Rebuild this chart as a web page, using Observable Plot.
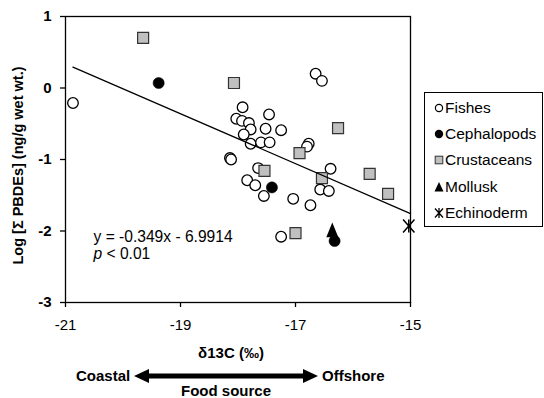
<!DOCTYPE html>
<html>
<head>
<meta charset="utf-8">
<script src="https://cdn.jsdelivr.net/npm/d3@7"></script>
<script src="https://cdn.jsdelivr.net/npm/@observablehq/plot@0.6"></script>
<style>
  html, body { margin: 0; padding: 0; background: #fff; }
  body { font-family: Arial, "Liberation Sans", sans-serif; color: #000; }
  #wrap { position: relative; width: 544px; height: 398px; overflow: hidden; background: #fff; }
  #chart svg { display: block; }
  #legend { position: absolute; left: 424px; top: 92px; width: 119px; height: 135px; border: 1px solid #000; background: #fff; box-sizing: border-box; }
  .item { position: absolute; left: 0; height: 18px; line-height: 18px; font-size: 15.5px; white-space: nowrap; }
  .item svg { position: absolute; left: 6px; top: 1px; }
  .item span { position: absolute; left: 20px; top: 0; }
  .cap { position: absolute; font: bold 15px Arial, "Liberation Sans", sans-serif; line-height: 18px; white-space: nowrap; }
</style>
</head>
<body>
<div id="wrap">
  <div id="chart"></div>
  <div id="legend"></div>
  <div class="cap" style="left:76px;top:367px;">Coastal</div>
  <svg id="arrow" width="184" height="16" style="position:absolute;left:134px;top:368px;">
    <polygon points="0,8 15,1 15,15" fill="#000"/>
    <rect x="14" y="5.5" width="156" height="5" fill="#000"/>
    <polygon points="184,8 169,1 169,15" fill="#000"/>
  </svg>
  <div class="cap" style="left:322px;top:367px;">Offshore</div>
  <div class="cap" style="left:181px;top:382px;">Food source</div>
</div>
<script>
// ---- data ----
const categories = ["Fishes", "Cephalopods", "Crustaceans", "Mollusk", "Echinoderm"];

const fishX = [-20.87, -16.65, -16.54, -17.92, -17.46, -18.03, -17.93, -17.81, -17.78, -17.90,
               -17.52, -17.25, -17.78, -17.60, -17.45, -16.77, -16.80, -18.14, -18.12, -17.65,
               -17.84, -17.70, -16.39, -16.57, -16.42, -17.55, -17.04, -16.74, -17.25];
const fishY = [-0.21, 0.20, 0.10, -0.27, -0.37, -0.43, -0.46, -0.49, -0.58, -0.65,
               -0.57, -0.59, -0.78, -0.76, -0.76, -0.78, -0.82, -0.98, -1.00, -1.12,
               -1.29, -1.36, -1.13, -1.42, -1.44, -1.51, -1.55, -1.64, -2.08];

const cephX = [-19.38, -17.41, -16.32];
const cephY = [0.07, -1.39, -2.14];

const crustX = [-19.65, -18.07, -16.26, -16.93, -17.54, -16.54, -15.71, -15.39, -17.00];
const crustY = [0.70, 0.07, -0.56, -0.91, -1.16, -1.26, -1.20, -1.48, -2.03];

const molluskX = [-16.36];
const molluskY = [-1.99];

const echinoX = [-15.03];
const echinoY = [-1.93];

const slope = -0.349;
const intercept = -6.9914;
const equationText = "y = -0.349x - 6.9914";
const pText = "< 0.01";

const xTicks = [-21, -19, -17, -15];
const yTicks = [-3, -2, -1, 0, 1];

const xLabel = "δ13C (‰)";
const yLabel = "Log [Σ PBDEs] (ng/g wet wt.)";

// ---- tables ----
const toRows = (xs, ys) => xs.map((x, i) => ({x, y: ys[i]}));
const fish = toRows(fishX, fishY);
const ceph = toRows(cephX, cephY);
const crust = toRows(crustX, crustY);
const mollusk = toRows(molluskX, molluskY);
const echino = toRows(echinoX, echinoY);

const allX = [...fishX, ...cephX, ...crustX, ...molluskX, ...echinoX];
const xMin = d3.min(allX), xMax = -15;
const trend = [xMin, xMax].map(x => ({x, y: slope * x + intercept}));

// custom symbols
const triSym = {
  draw(ctx, size) {
    const r = Math.sqrt(size / Math.PI);
    ctx.moveTo(0, -1.3 * r);
    ctx.lineTo(r, 1.15 * r);
    ctx.lineTo(-r, 1.15 * r);
    ctx.closePath();
  }
};
const astSym = {
  draw(ctx, size) {
    const r = Math.sqrt(size / Math.PI);
    const w = 0.95 * r, h = 1.1 * r;
    ctx.moveTo(-w, -h); ctx.lineTo(w, h);
    ctx.moveTo(-w, h); ctx.lineTo(w, -h);
    ctx.moveTo(0, -h); ctx.lineTo(0, h);
  }
};

const font = 'Arial, "Liberation Sans", sans-serif';

const chart = Plot.plot({
  width: 544,
  height: 362,
  marginLeft: 65,
  marginRight: 134,
  marginTop: 16,
  marginBottom: 60,
  x: {domain: [-21, -15]},
  y: {domain: [-3, 1]},
  style: {fontFamily: font, fontSize: "15px", color: "black", background: "white"},
  marks: [
    Plot.axisX({ticks: xTicks, tickSize: 5, tickPadding: 12, label: null, tickFormat: d => String(d), fontSize: 15, strokeWidth: 1.3}),
    Plot.axisY({ticks: yTicks, tickSize: 5, tickPadding: 9, label: null, tickFormat: d => String(d), fontSize: 15, fontWeight: "bold", strokeWidth: 1.3}),
    Plot.dot(fish, {x: "x", y: "y", r: 5.3, fill: "white", stroke: "black", strokeWidth: 1.3}),
    Plot.dot(crust, {x: "x", y: "y", symbol: "square", r: 6.2, fill: "#c0c0c0", stroke: "#333", strokeWidth: 1.2}),
    Plot.dot(mollusk, {x: "x", y: "y", symbol: triSym, r: 6, fill: "black", stroke: "none"}),
    Plot.dot(ceph, {x: "x", y: "y", r: 5.6, fill: "black", stroke: "black", strokeWidth: 0.5}),
    Plot.dot(echino, {x: "x", y: "y", symbol: astSym, r: 6, fill: "none", stroke: "black", strokeWidth: 1.5}),
    Plot.line(trend, {x: "x", y: "y", stroke: "black", strokeWidth: 1.3}),
    Plot.frame({stroke: "black", strokeWidth: 1.3}),
    Plot.text([equationText], {frameAnchor: "top-left", text: d => d, dx: 28, dy: 220, textAnchor: "start", lineAnchor: "middle", fontSize: 15.6}),
    Plot.text(["p"], {frameAnchor: "top-left", text: d => d, dx: 28, dy: 237, textAnchor: "start", lineAnchor: "middle", fontSize: 15.6, fontStyle: "italic"}),
    Plot.text([pText], {frameAnchor: "top-left", text: d => d, dx: 41, dy: 237, textAnchor: "start", lineAnchor: "middle", fontSize: 15.6}),
    Plot.text([xLabel], {frameAnchor: "bottom", text: d => d, dx: -7, dy: 51, textAnchor: "middle", lineAnchor: "middle", fontSize: 15, fontWeight: "bold"}),
    Plot.text([yLabel], {frameAnchor: "left", text: d => d, dx: -47, dy: 6, rotate: -90, textAnchor: "middle", lineAnchor: "middle", fontSize: 14.5, fontWeight: "bold"})
  ]
});
document.getElementById("chart").appendChild(chart);

// ---- legend ----
const markerSvg = {
  Fishes: '<circle cx="8" cy="8" r="3.6" fill="#fff" stroke="#000" stroke-width="1.2"/>',
  Cephalopods: '<circle cx="8" cy="8" r="4.2" fill="#000"/>',
  Crustaceans: '<rect x="4.2" y="4.2" width="7.6" height="7.6" fill="#c0c0c0" stroke="#333" stroke-width="1"/>',
  Mollusk: '<polygon points="8,3 12.5,12.5 3.5,12.5" fill="#000"/>',
  Echinoderm: '<path d="M4,3.5L12,12.5M4,12.5L12,3.5M8,3L8,13" stroke="#000" stroke-width="1.3" fill="none"/>'
};
const legendTops = [15, 41, 67, 94, 120];
const legend = document.getElementById("legend");
categories.forEach((c, i) => {
  const div = document.createElement("div");
  div.className = "item";
  div.style.top = (legendTops[i] - 9) + "px";
  div.innerHTML = '<svg width="16" height="16">' + markerSvg[c] + '</svg><span>' + c + '</span>';
  legend.appendChild(div);
});
</script>
</body>
</html>
